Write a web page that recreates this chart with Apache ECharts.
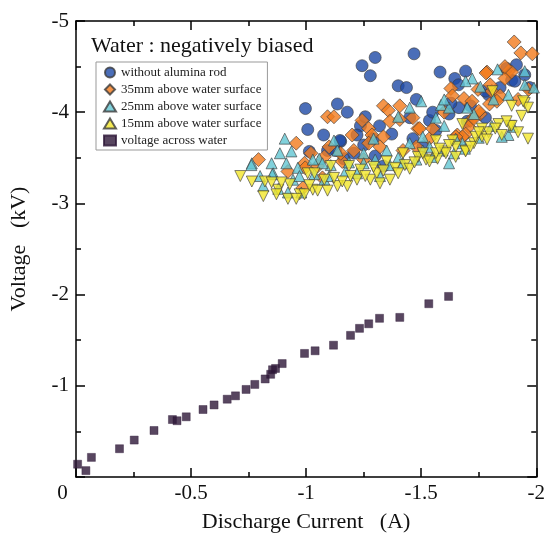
<!DOCTYPE html>
<html>
<head>
<meta charset="utf-8">
<script src="https://cdn.jsdelivr.net/npm/echarts@6/dist/echarts.min.js"></script>
<style>
html,body{margin:0;padding:0;background:#fff;}
#chart{width:548px;height:538px;}
</style>
</head>
<body>
<div id="chart"></div>
<script>
// ---- data ----
const chartTitle = 'Water : negatively biased';
const seriesNames = ['without alumina rod','35mm above water surface','25mm above water surface','15mm above water surface','voltage across water'];
const xRange = [-2, 0];
const yRange = [-5, 0];

const withoutRod = [[-1.243,-4.51],[-1.300,-4.60],[-1.279,-4.40],[-1.469,-4.64],[-1.582,-4.44],[-1.693,-4.45],[-1.646,-4.37],[-1.400,-4.29],[-1.436,-4.27],[-1.479,-4.14],[-0.997,-4.04],[-1.136,-4.09],[-1.007,-3.81],[-1.076,-3.75],[-1.179,-4.00],[-1.236,-3.85],[-1.319,-3.85],[-1.372,-3.76],[-1.014,-3.57],[-1.093,-3.58],[-1.150,-3.68],[-1.221,-3.75],[-1.250,-3.64],[-1.450,-3.94],[-1.536,-3.91],[-1.564,-3.80],[-1.621,-3.98],[-1.664,-4.05],[-1.714,-4.07],[-1.779,-3.94],[-1.793,-4.19],[-1.843,-4.27],[-1.871,-4.48],[-1.914,-4.52],[-1.893,-4.35],[-1.950,-4.41],[-1.971,-4.27],[-1.662,-4.30],[-1.779,-4.23],[-1.907,-4.34],[-1.629,-4.10],[-1.507,-3.62],[-1.147,-3.69],[-1.290,-3.71],[-1.464,-3.71],[-1.129,-3.58],[-1.164,-3.49],[-1.207,-3.55],[-1.336,-3.41],[-1.300,-3.52],[-1.257,-3.95],[-1.550,-4.00],[-1.700,-3.90]];

const mm35 = [[-1.904,-4.77],[-1.933,-4.65],[-1.983,-4.64],[-1.786,-4.44],[-1.879,-4.45],[-1.864,-4.37],[-1.967,-4.25],[-1.629,-4.26],[-1.636,-4.18],[-1.686,-4.15],[-1.747,-4.25],[-1.807,-4.23],[-1.843,-4.18],[-1.797,-4.09],[-1.921,-4.14],[-1.757,-3.98],[-1.714,-3.91],[-1.707,-3.84],[-1.693,-3.76],[-1.657,-3.75],[-1.336,-4.07],[-1.357,-4.02],[-1.407,-4.07],[-1.093,-3.95],[-1.121,-3.95],[-1.243,-3.91],[-1.407,-3.92],[-1.464,-3.94],[-1.486,-3.82],[-1.200,-3.75],[-1.272,-3.82],[-1.286,-3.75],[-1.272,-3.66],[-1.336,-3.73],[-1.321,-3.62],[-1.421,-3.58],[-0.957,-3.66],[-0.793,-3.48],[-1.021,-3.55],[-1.079,-3.51],[-1.207,-3.58],[-1.250,-3.48],[-0.921,-3.35],[-0.993,-3.44],[-1.157,-3.46],[-1.071,-3.28],[-0.986,-3.17],[-1.050,-3.41],[-0.996,-3.39],[-1.782,-4.43],[-1.750,-4.01],[-1.729,-3.93],[-1.679,-3.73],[-1.650,-3.73],[-1.493,-3.82],[-1.536,-3.71],[-1.550,-3.82],[-1.479,-3.62],[-1.829,-4.12],[-1.893,-4.44],[-1.864,-4.50],[-1.150,-3.55],[-1.100,-3.62],[-1.364,-3.90],[-1.600,-4.00],[-1.721,-4.12],[-1.800,-4.30]];

const mm25 = [[-1.832,-4.47],[-1.950,-4.45],[-1.990,-4.27],[-1.722,-4.37],[-1.757,-4.28],[-1.693,-4.34],[-1.879,-4.19],[-1.500,-4.12],[-1.450,-4.05],[-1.586,-4.08],[-1.621,-4.05],[-1.564,-3.94],[-1.729,-3.98],[-1.807,-3.85],[-1.879,-3.75],[-0.907,-3.71],[-0.936,-3.57],[-0.764,-3.44],[-0.850,-3.44],[-0.914,-3.44],[-0.800,-3.30],[-0.857,-3.33],[-0.964,-3.39],[-1.121,-3.69],[-1.136,-3.58],[-1.057,-3.49],[-1.107,-3.42],[-1.171,-3.35],[-1.221,-3.33],[-1.321,-3.30],[-1.364,-3.42],[-1.421,-3.44],[-1.479,-3.48],[-1.550,-3.51],[-1.593,-3.58],[-1.643,-3.55],[-1.621,-3.44],[-1.650,-3.71],[-1.507,-3.58],[-1.293,-3.71],[-1.850,-3.73],[-1.900,-3.84],[-1.507,-3.73],[-1.450,-3.66],[-0.762,-3.42],[-0.853,-3.32],[-0.943,-3.26],[-0.879,-3.16],[-0.814,-3.19],[-1.029,-3.48],[-1.071,-3.44],[-1.036,-3.32],[-1.079,-3.26],[-0.921,-3.12],[-0.979,-3.12],[-1.250,-3.55],[-1.350,-3.58],[-1.600,-3.85],[-1.950,-4.30],[-1.250,-3.44],[-1.690,-3.60],[-0.886,-3.55],[-0.971,-3.30],[-1.100,-3.30],[-1.186,-3.45],[-1.300,-3.48],[-1.400,-3.50],[-1.536,-3.62],[-1.679,-3.66],[-1.750,-3.72],[-1.814,-4.14],[-1.700,-4.05],[-1.600,-4.14],[-1.400,-3.95]];

const mm15 = [[-0.714,-3.30],[-0.764,-3.24],[-0.814,-3.08],[-0.821,-3.24],[-0.879,-3.15],[-0.921,-3.05],[-0.929,-3.21],[-0.972,-3.10],[-0.993,-3.10],[-1.029,-3.15],[-1.050,-3.14],[-1.093,-3.14],[-1.136,-3.19],[-1.179,-3.19],[-1.221,-3.26],[-1.279,-3.26],[-1.307,-3.33],[-1.364,-3.26],[-1.386,-3.39],[-1.429,-3.42],[-1.486,-3.51],[-1.521,-3.48],[-1.571,-3.49],[-1.600,-3.57],[-1.650,-3.62],[-1.693,-3.58],[-1.729,-3.66],[-1.764,-3.73],[-1.793,-3.78],[-1.836,-3.87],[-1.886,-3.85],[-1.921,-3.78],[-1.950,-4.10],[-1.964,-4.05],[-1.936,-3.96],[-1.679,-3.87],[-1.564,-3.69],[-1.636,-3.69],[-1.507,-3.55],[-1.421,-3.55],[-1.350,-3.46],[-1.186,-3.41],[-1.236,-3.37],[-1.079,-3.26],[-1.107,-3.41],[-1.007,-3.33],[-0.850,-3.23],[-0.893,-3.23],[-1.036,-3.33],[-1.810,-4.23],[-1.893,-4.07],[-1.943,-4.12],[-1.964,-3.71],[-1.893,-3.85],[-1.822,-3.82],[-1.850,-3.75],[-1.764,-3.82],[-1.736,-3.73],[-1.693,-3.57],[-1.621,-3.64],[-1.564,-3.55],[-1.536,-3.46],[-1.607,-3.55],[-1.650,-3.51],[-1.157,-3.24],[-1.257,-3.30],[-1.336,-3.36],[-1.450,-3.38],[-0.957,-3.05],[-0.871,-3.10],[-1.014,-3.20],[-1.121,-3.28],[-1.193,-3.30],[-1.293,-3.40],[-1.321,-3.22],[-1.400,-3.33],[-1.471,-3.45],[-1.579,-3.60],[-1.714,-3.62],[-1.786,-3.70],[-1.871,-3.90],[-1.750,-3.78]];

const waterVoltage = [[-0.007,-0.14],[-0.043,-0.07],[-0.067,-0.215],[-0.189,-0.31],[-0.253,-0.405],[-0.339,-0.51],[-0.419,-0.63],[-0.439,-0.617],[-0.479,-0.66],[-0.552,-0.74],[-0.600,-0.79],[-0.657,-0.853],[-0.693,-0.89],[-0.739,-0.96],[-0.777,-1.015],[-0.822,-1.075],[-0.846,-1.126],[-0.854,-1.176],[-0.867,-1.19],[-0.896,-1.244],[-0.993,-1.355],[-1.039,-1.384],[-1.119,-1.445],[-1.193,-1.553],[-1.232,-1.63],[-1.272,-1.68],[-1.319,-1.74],[-1.407,-1.75],[-1.533,-1.90],[-1.619,-1.98]];

// ---- chart ----
const FONT = '"Liberation Serif","Times New Roman",serif';
const chart = echarts.init(document.getElementById('chart'), null, {renderer:'canvas'});
const borderStyle = {borderColor:'#3a3a3a', borderWidth:0.8};
const diamond = 'path://M0,-1L1,0L0,1L-1,0Z';

function axisCommon(extra){
  return Object.assign({
    type:'value',
    axisLine:{show:true, onZero:false, lineStyle:{color:'#000', width:1.5}},
    axisTick:{show:true, inside:true, length:9, lineStyle:{color:'#000', width:1.5}},
    minorTick:{show:true, splitNumber:2, length:5, lineStyle:{color:'#000', width:1.5}},
    splitLine:{show:false},
    minorSplitLine:{show:false}
  }, extra);
}

chart.setOption({
  animation:false,
  backgroundColor:'#fff',
  textStyle:{fontFamily:FONT},
  title:{text:chartTitle, left:86, top:30, textStyle:{fontFamily:FONT, fontSize:22, fontWeight:'normal', color:'#111'}},
  legend:{
    orient:'vertical', left:96, top:62, width:170,
    padding:[4,6,3,7], itemGap:4, itemWidth:12, itemHeight:10,
    borderColor:'#999', borderWidth:1, backgroundColor:'#fff',
    textStyle:{fontFamily:FONT, fontSize:13, color:'#222'},
    data:seriesNames
  },
  grid:{left:74, right:6, top:21, bottom:51, containLabel:false},
  xAxis:[
    axisCommon({min:xRange[0], max:xRange[1], interval:0.5, inverse:true, position:'bottom',
      name:'Discharge Current   (A)', nameLocation:'middle', nameGap:34,
      nameTextStyle:{fontFamily:FONT, fontSize:22, color:'#111'},
      axisLabel:{fontFamily:FONT, fontSize:21, color:'#111', margin:6,
        formatter:function(v){ return v===0 ? '{z|0}' : String(v); },
        rich:{z:{fontFamily:FONT, fontSize:21, color:'#111', padding:[0,27,0,0]}}}}),
    axisCommon({min:xRange[0], max:xRange[1], interval:0.5, inverse:true, position:'top',
      axisLabel:{show:false}})
  ],
  yAxis:[
    axisCommon({min:yRange[0], max:yRange[1], interval:1, inverse:true, position:'left',
      name:'Voltage   (kV)', nameLocation:'middle', nameGap:46, nameRotate:90,
      nameTextStyle:{fontFamily:FONT, fontSize:22, color:'#111'},
      axisLabel:{fontFamily:FONT, fontSize:21, color:'#111', margin:7,
        formatter:function(v){ return v===0 ? '' : String(v); }}}),
    axisCommon({min:yRange[0], max:yRange[1], interval:1, inverse:true, position:'right',
      axisLabel:{show:false}})
  ],
  series:[
    {name:seriesNames[0], type:'scatter', data:withoutRod, symbol:'circle', symbolSize:12,
      itemStyle:Object.assign({color:'#1e4aa6'}, borderStyle), z:3},
    {name:seriesNames[1], type:'scatter', data:mm35, symbol:diamond, symbolSize:14,
      itemStyle:Object.assign({color:'#f27a1c'}, borderStyle), z:3},
    {name:seriesNames[2], type:'scatter', data:mm25, symbol:'triangle', symbolSize:11,
      itemStyle:Object.assign({color:'#62c6d2'}, borderStyle), z:3},
    {name:seriesNames[3], type:'scatter', data:mm15, symbol:'triangle', symbolRotate:180, symbolSize:11,
      itemStyle:Object.assign({color:'#f2e62a'}, borderStyle), z:3},
    {name:seriesNames[4], type:'scatter', data:waterVoltage, symbol:'rect', symbolSize:8,
      itemStyle:{color:'#2e1838', borderColor:'#2e1838', borderWidth:0.5}, z:3}
  ]
});
</script>
</body>
</html>
